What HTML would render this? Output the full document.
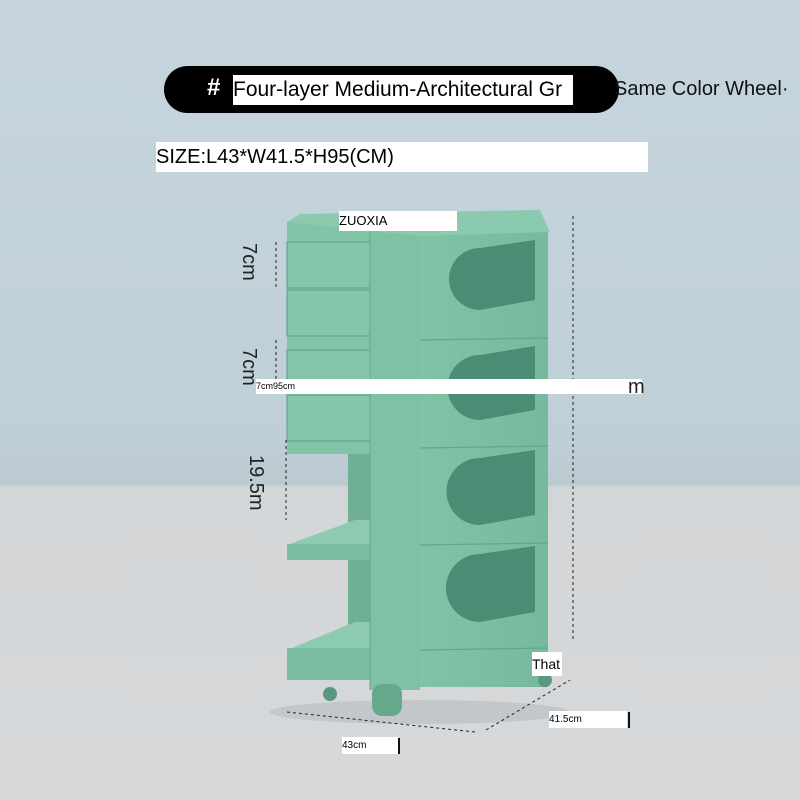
<!DOCTYPE html>
<html><head><meta charset="utf-8"><style>
html,body{margin:0;padding:0}
body{width:800px;height:800px;position:relative;overflow:hidden;font-family:"Liberation Sans",sans-serif;
background:linear-gradient(180deg,#c6d5dd 0%,#bfcfd8 55%,#bcc9d0 60.5%,#d3d6d8 61%,#d6d8da 100%)}
.a{position:absolute}
.w{background:#fff;color:#000;white-space:nowrap;overflow:hidden}
</style></head><body>
<div class="a" style="left:164px;top:66px;width:455px;height:47px;background:#000;border-radius:24px"></div>
<div class="a" style="left:207px;top:74px;color:#fff;font-size:24px;font-weight:bold">#</div>
<div class="a w" style="left:233px;top:75px;width:340px;height:30px;font-size:21px;line-height:30px">Four-layer Medium-Architectural Gr</div>
<div class="a" style="left:614px;top:78px;font-size:20px;color:#111;white-space:nowrap">Same Color Wheel·</div>
<div class="a w" style="left:156px;top:142px;width:492px;height:30px;font-size:20px;line-height:30px">SIZE:L43*W41.5*H95(CM)</div>

<svg class="a" style="left:0;top:0" width="800" height="800" viewBox="0 0 800 800">
<defs>
<linearGradient id="g1" x1="0" x2="1"><stop offset="0" stop-color="#80c3a6"/><stop offset="1" stop-color="#76b99c"/></linearGradient>
</defs>
<ellipse cx="420" cy="712" rx="150" ry="12" fill="#b9bdbe" opacity=".6"/>
<rect x="287" y="222" width="85" height="232" fill="#82c4a8"/>
<rect x="348" y="454" width="24" height="215" fill="#6fb095"/>
<g fill="#85c6aa" stroke="#64a68a" stroke-width="1.2">
<rect x="287" y="242" width="132" height="46"/>
<rect x="287" y="290" width="132" height="46"/>
<rect x="287" y="350" width="132" height="43"/>
<rect x="287" y="395" width="132" height="46"/>
</g>
<rect x="400" y="250" width="18" height="86" fill="#74b69a"/>
<rect x="400" y="352" width="18" height="90" fill="#74b69a"/>
<polygon points="287,545 355,520 372,520 372,558 287,560" fill="#8ccbb0"/>
<rect x="287" y="544" width="85" height="16" fill="#7bbea1"/>
<polygon points="287,650 355,622 372,622 372,680 287,680" fill="#8ccbb0"/>
<rect x="287" y="648" width="85" height="32" fill="#7bbea1"/>
<rect x="370" y="228" width="50" height="462" fill="#7ec1a5"/>
<line x1="370" y1="228" x2="370" y2="690" stroke="#66a88c"/>
<rect x="420" y="232" width="128" height="455" fill="url(#g1)"/>
<polygon points="287,222 300,214 540,210 550,232 420,236" fill="#8ccab0"/>
<g stroke="#64a68a" stroke-width="1.2">
<line x1="420" y1="340" x2="548" y2="338"/><line x1="420" y1="448" x2="548" y2="446"/>
<line x1="420" y1="545" x2="548" y2="543"/><line x1="420" y1="650" x2="548" y2="648"/>
</g>
<g fill="#4b8c74">
<path d="M480,248 L535,240 L535,300 L480,310 A31,31 0 0 1 480,248Z"/>
<path d="M480,355 L535,346 L535,410 L480,420 A32,32 0 0 1 480,355Z"/>
<path d="M480,458 L535,450 L535,515 L480,525 A33,33 0 0 1 480,458Z"/>
<path d="M480,554 L535,546 L535,612 L480,622 A33,33 0 0 1 480,554Z"/>
</g>
<rect x="372" y="684" width="30" height="32" rx="10" fill="#66a88c"/>
<circle cx="330" cy="694" r="7" fill="#5a9780"/>
<circle cx="545" cy="680" r="7" fill="#5a9780"/>
<g stroke="#222" stroke-width="1" stroke-dasharray="3,3" fill="none">
<line x1="276" y1="242" x2="276" y2="288"/>
<line x1="276" y1="340" x2="276" y2="388"/>
<line x1="286" y1="440" x2="286" y2="520"/>
<line x1="573" y1="216" x2="573" y2="642"/>
<line x1="287" y1="712" x2="475" y2="732"/>
<line x1="486" y1="730" x2="570" y2="680"/>
</g>
<g font-family="Liberation Sans" font-size="20" fill="#222">
<text transform="translate(243,243) rotate(90)">7cm</text>
<text transform="translate(243,348) rotate(90)">7cm</text>
<text transform="translate(250,455) rotate(90)">19.5m</text>
</g>
</svg>
<div class="a w" style="left:339px;top:211px;width:118px;height:20px;font-size:13px;line-height:20px">ZUOXIA</div>
<div class="a w" style="left:256px;top:379px;width:386px;height:15px;font-size:9px;line-height:15px">7cm95cm</div>
<div class="a" style="left:628px;top:376px;font-size:20px;color:#222">m</div>
<div class="a w" style="left:532px;top:652px;width:30px;height:24px;font-size:14px;line-height:24px">That</div>
<div class="a w" style="left:549px;top:711px;width:78px;height:17px;font-size:10px;line-height:17px">41.5cm</div>
<div class="a" style="left:628px;top:712px;width:2px;height:16px;background:#111"></div>
<div class="a w" style="left:342px;top:737px;width:56px;height:17px;font-size:10px;line-height:17px">43cm</div>
<div class="a" style="left:398px;top:738px;width:2px;height:16px;background:#111"></div>
</body></html>
